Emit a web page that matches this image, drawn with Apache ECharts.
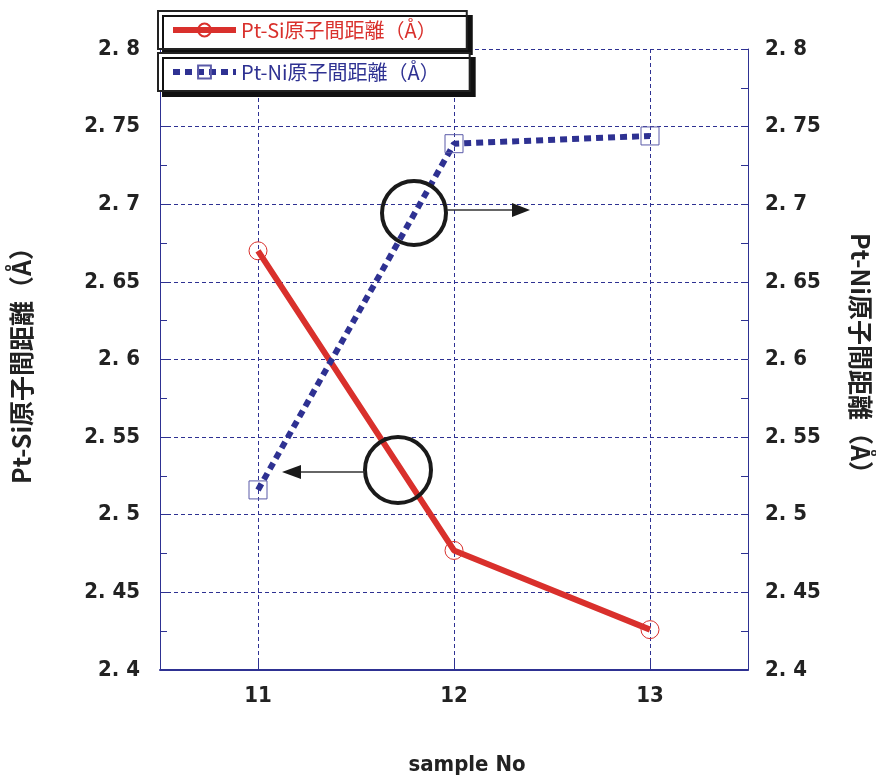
<!DOCTYPE html>
<html>
<head>
<meta charset="utf-8">
<script src="https://cdn.jsdelivr.net/npm/echarts@6/dist/echarts.min.js"></script>
<style>
  html, body { margin: 0; padding: 0; background: #fff; }
  #main { width: 876px; height: 778px; }
</style>
</head>
<body>
<div id="main"></div>
<script>
var chartDom = document.getElementById('main');
var myChart = echarts.init(chartDom);
var option;

// datos
var samples = ['11', '12', '13'];
var ptSi = [2.670, 2.477, 2.426];
var ptNi = [2.516, 2.739, 2.744];
var nameSi = 'Pt-Si原子間距離（Å）';
var nameNi = 'Pt-Ni原子間距離（Å）';

var red = '#d9302c';
var navy = '#2e3192';
var numFont = "'Liberation Sans Narrow', 'DejaVu Sans Condensed', 'Noto Sans', sans-serif";
var jpFont = "'Noto Sans CJK JP', sans-serif";

function fmtY(v) {
    return String(+v.toFixed(2)).replace('.', '. ');
}

function yAxis(pos, name, rot, gap) {
    return {
        type: 'value',
        position: pos,
        min: 2.4,
        max: 2.8,
        interval: 0.05,
        name: name,
        nameLocation: 'middle',
        nameRotate: rot,
        nameGap: gap,
        nameTextStyle: { fontFamily: jpFont, fontWeight: 'bold', fontSize: 25, color: '#222' },
        axisLine: { show: true, lineStyle: { color: navy, width: 1 } },
        axisTick: { show: true, inside: true, length: 7, lineStyle: { color: navy } },
        minorTick: { show: true, splitNumber: 2, length: 7, lineStyle: { color: navy } },
        axisLabel: {
            formatter: fmtY, margin: pos === 'left' ? 20 : 17,
            fontFamily: numFont, fontWeight: 'bold', fontSize: 22, color: '#222'
        },
        splitLine: { show: pos === 'left', lineStyle: { color: navy, type: [4, 3], width: 1 } }
    };
}

function legend(top, name, color) {
    return {
        data: [name],
        left: 158,
        top: top,
        orient: 'horizontal',
        itemWidth: 63,
        itemHeight: 16,
        padding: [9, 30, 9, 12],
        backgroundColor: '#fff',
        borderColor: '#222',
        borderWidth: 2,
        borderRadius: 0,
        shadowColor: '#111',
        shadowBlur: 0,
        shadowOffsetX: 5,
        shadowOffsetY: 5,
        lineStyle: { width: 6 },
        textStyle: { fontFamily: jpFont, fontSize: 20, color: color }
    };
}

option = {
    animation: false,
    backgroundColor: '#fff',
    grid: { left: 160, right: 128, top: 49, bottom: 108, outerBoundsMode: 'none' },
    legend: [legend(11, nameSi, red), legend(53, nameNi, navy)],
    xAxis: {
        type: 'category',
        data: samples,
        boundaryGap: true,
        name: 'sample No',
        nameLocation: 'middle',
        nameGap: 84,
        nameTextStyle: { fontFamily: numFont, fontWeight: 'bold', fontSize: 22, color: '#222', padding: [0, 0, 0, 26] },
        axisLine: { lineStyle: { color: navy, width: 2 } },
        axisTick: { show: true, inside: true, alignWithLabel: true, length: 10, lineStyle: { color: navy } },
        axisLabel: { margin: 15, fontFamily: numFont, fontWeight: 'bold', fontSize: 22, color: '#222' },
        splitLine: { show: true, alignWithLabel: true, lineStyle: { color: navy, type: [4, 3], width: 1 } }
    },
    yAxis: [
        yAxis('left', nameSi, 90, 126),
        yAxis('right', nameNi, -90, 100)
    ],
    series: [
        {
            name: nameSi,
            type: 'line',
            yAxisIndex: 0,
            data: ptSi,
            symbol: 'circle',
            symbolSize: 18,
            lineStyle: { color: red, width: 6 },
            itemStyle: { color: 'rgba(255,255,255,0)', borderColor: red, borderWidth: 1 },
            z: 3
        },
        {
            name: nameNi,
            type: 'line',
            yAxisIndex: 1,
            data: ptNi,
            symbol: 'rect',
            symbolSize: 18,
            lineStyle: { color: navy, width: 6, type: [7, 5] },
            itemStyle: { color: 'rgba(255,255,255,0)', borderColor: '#5a5aa8', borderWidth: 1 },
            z: 4
        }
    ],
    graphic: [
        // anotaciones: círculos y flechas
        { type: 'circle', shape: { cx: 414, cy: 213, r: 32 }, style: { fill: 'none', stroke: '#1a1a1a', lineWidth: 4 }, z: 10 },
        { type: 'line', shape: { x1: 447, y1: 210, x2: 514, y2: 210 }, style: { stroke: '#333', lineWidth: 1.5 }, z: 10 },
        { type: 'polygon', shape: { points: [[512, 203], [530, 210], [512, 217]] }, style: { fill: '#1a1a1a' }, z: 10 },
        { type: 'circle', shape: { cx: 398, cy: 470, r: 33 }, style: { fill: 'none', stroke: '#1a1a1a', lineWidth: 4 }, z: 10 },
        { type: 'line', shape: { x1: 365, y1: 472, x2: 299, y2: 472 }, style: { stroke: '#333', lineWidth: 1.5 }, z: 10 },
        { type: 'polygon', shape: { points: [[301, 465], [282, 472], [301, 479]] }, style: { fill: '#1a1a1a' }, z: 10 }
    ]
};

option && myChart.setOption(option);
</script>
</body>
</html>
